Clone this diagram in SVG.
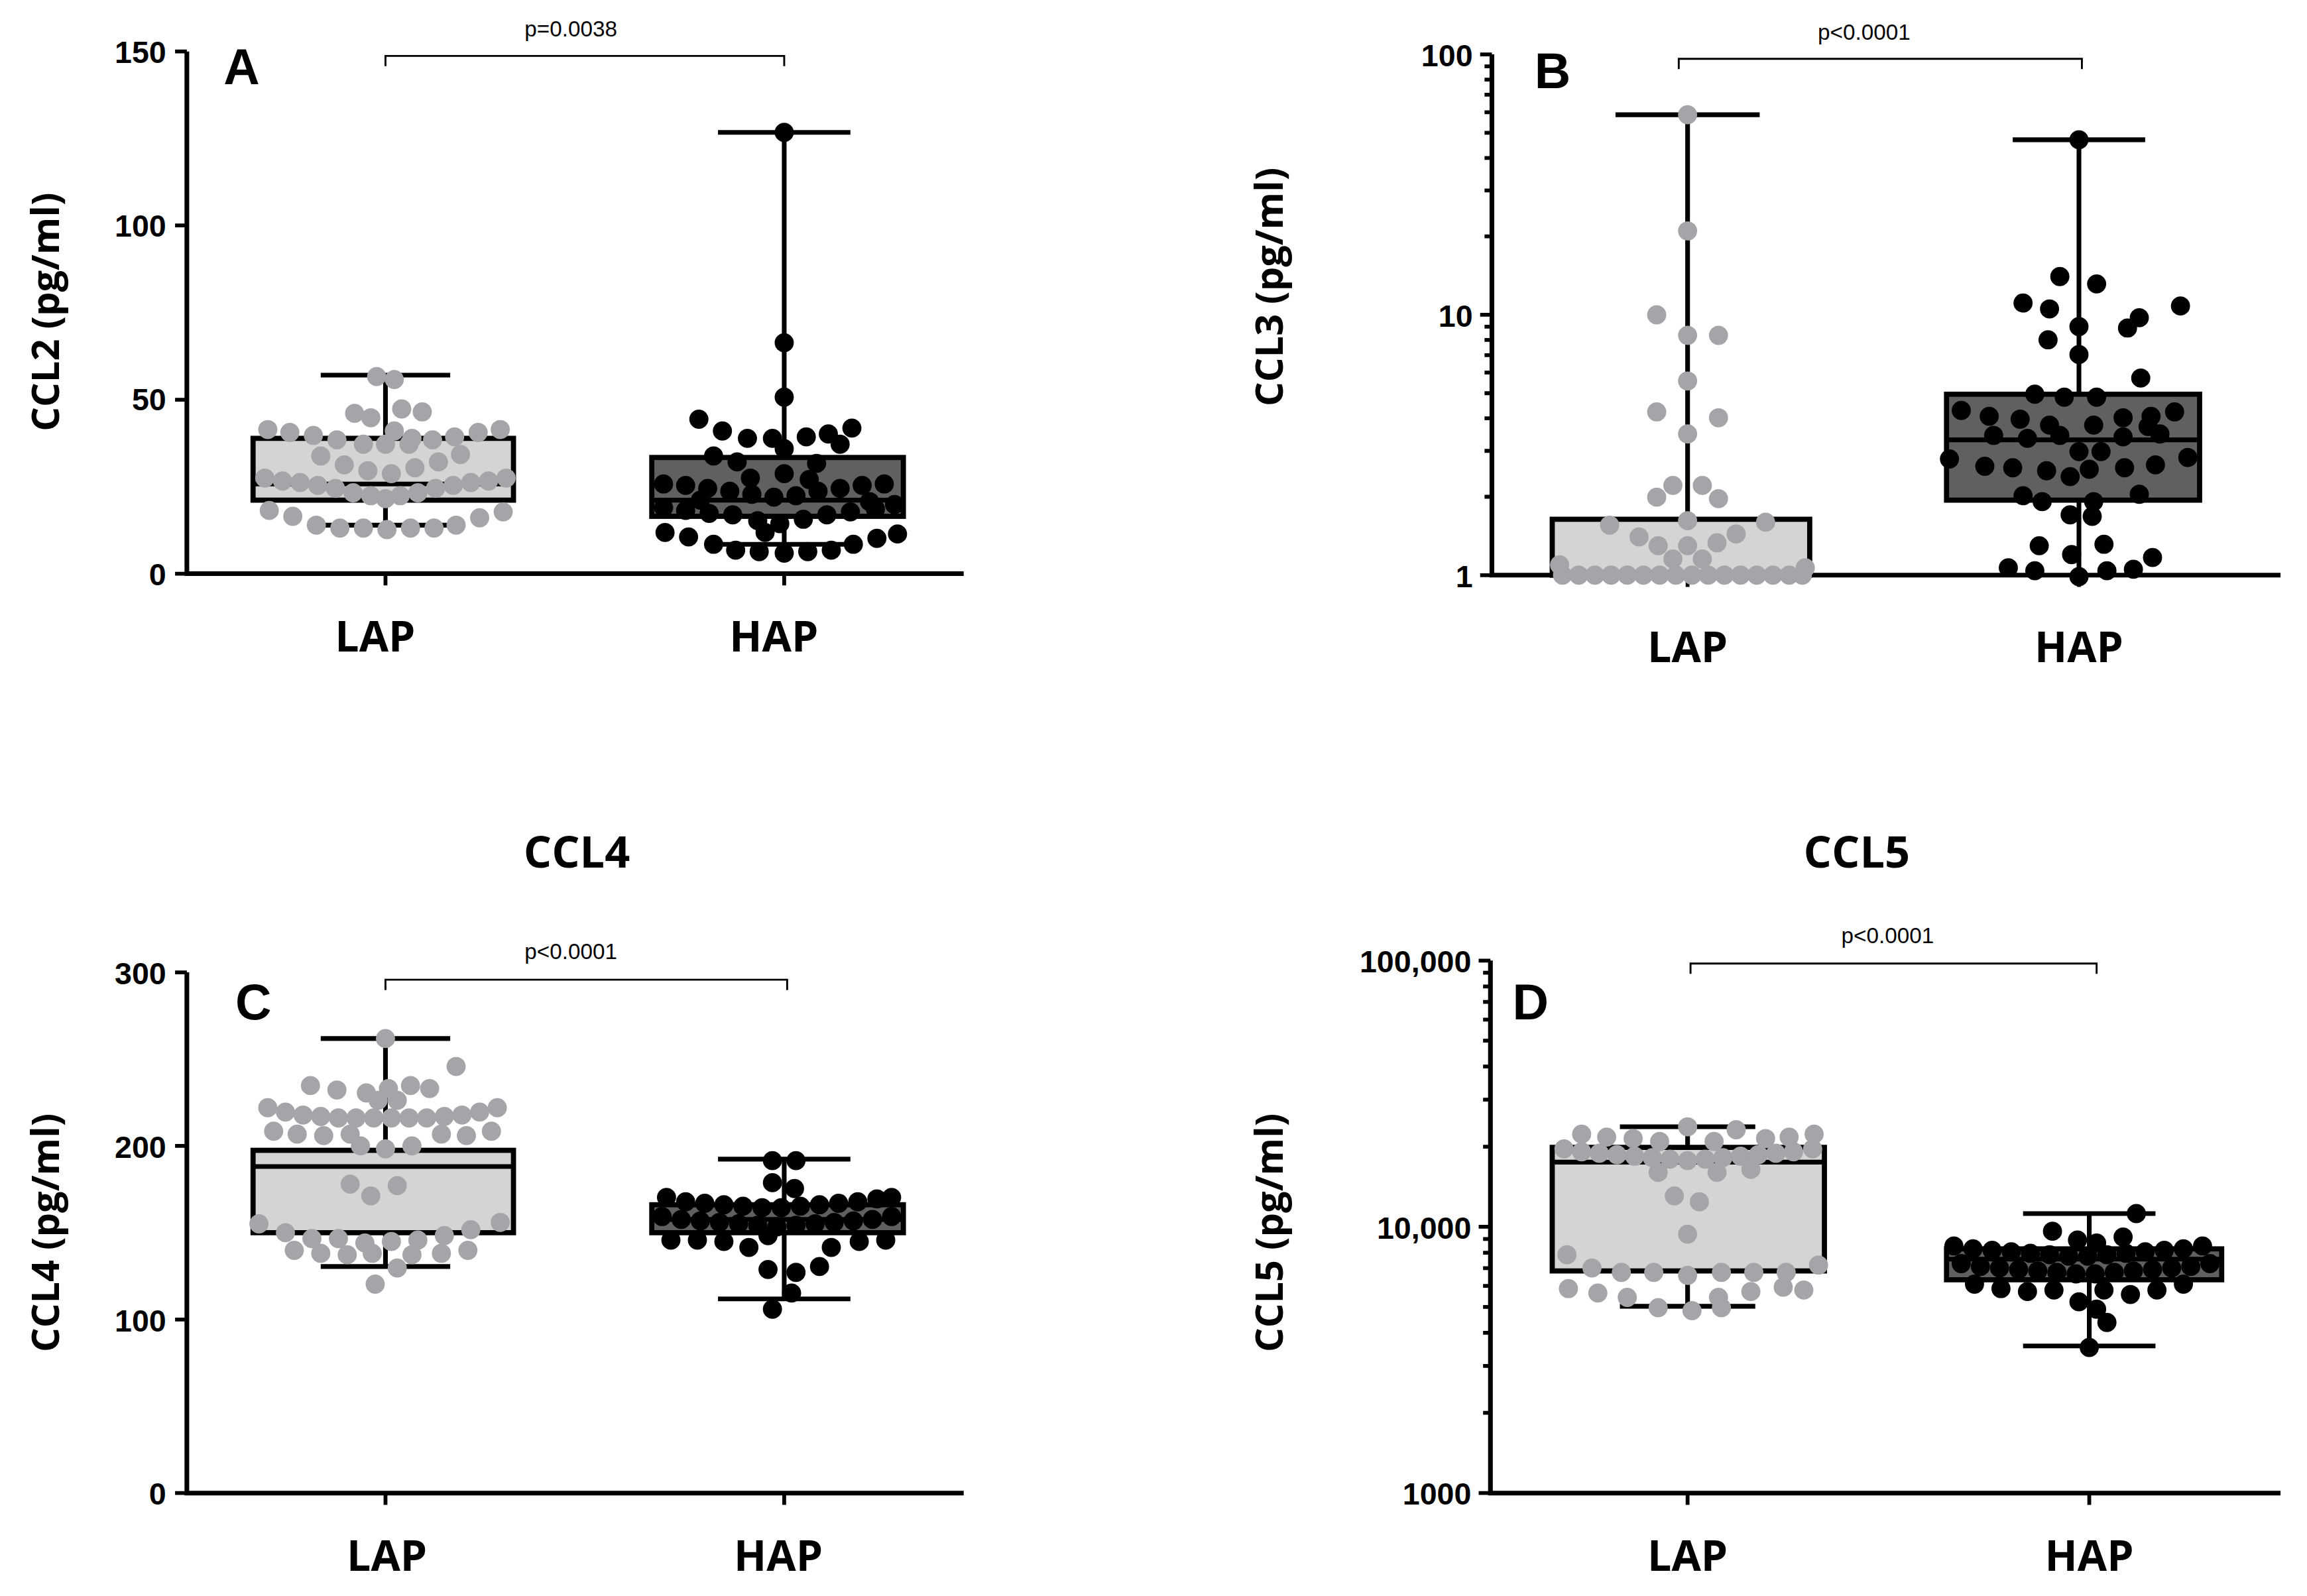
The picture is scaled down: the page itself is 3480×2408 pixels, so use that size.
<svg xmlns="http://www.w3.org/2000/svg" width="3480" height="2408" viewBox="0 0 3480 2408">
<style>
.ax{stroke:#000;stroke-width:3.2;fill:none}
.tk{stroke:#000;stroke-width:2.6}
.br{stroke:#000;stroke-width:1.3;fill:none}
.wh{stroke:#000;stroke-width:3.2}
.bl{fill:#d4d4d4;stroke:#000;stroke-width:3.5}
.bh{fill:#606060;stroke:#000;stroke-width:3.5}
.num{font-family:"Liberation Sans",Arial,sans-serif;font-weight:bold;font-size:21px;text-anchor:end}
.cat{font-family:"Open Sans","Liberation Sans",sans-serif;font-weight:bold;font-size:29px;text-anchor:middle}
.ttl{font-family:"Open Sans","Liberation Sans",sans-serif;font-weight:bold;font-size:26px;text-anchor:middle}
.pan{font-family:"Liberation Sans",Arial,sans-serif;font-weight:bold;font-size:34px}
.pv{font-family:"Liberation Sans",Arial,sans-serif;font-size:15px;text-anchor:middle}
.g circle{fill:#a5a5a9}
.k circle{fill:#000}
</style>
<rect width="3480" height="2408" fill="#fff"/>
<g transform="scale(2.2194)">
<!-- Panel A -->
<g id="panelA">
<path class="ax" d="M127,35 V390 H655"/>
<path class="tk" d="M119,35H127M119,153.3H127M119,271.7H127M119,390H127M262,390V398M533,390V398"/>
<text class="num" x="113" y="43">150</text><text class="num" x="113" y="161">100</text><text class="num" x="113" y="279">50</text><text class="num" x="113" y="398">0</text>
<text class="cat" x="255" y="443">LAP</text><text class="cat" x="526" y="443">HAP</text>
<text class="ttl" transform="translate(40,212) rotate(-90)">CCL2 (pg/ml)</text>
<text class="pan" x="152" y="57">A</text>
<path class="br" d="M262,45V38H533V45"/><text class="pv" x="388" y="25">p=0.0038</text>
<path class="wh" d="M262,255V357M218,255H306M218,357H306M533,90V370M488,90H578M488,370H578"/>
<rect class="bl" x="172" y="298" width="177" height="42"/><path class="wh" d="M172,329H349"/>
<rect class="bh" x="443" y="311" width="171" height="40"/><path class="wh" d="M443,340H614"/>
<g class="g">
<circle cx="256" cy="256" r="6.5"/><circle cx="268" cy="258" r="6.5"/><circle cx="241" cy="281" r="6.5"/><circle cx="252" cy="284" r="6.5"/><circle cx="273" cy="278" r="6.5"/><circle cx="287" cy="280" r="6.5"/><circle cx="268" cy="293" r="6.5"/><circle cx="280" cy="298" r="6.5"/>
<circle cx="182" cy="292" r="6.5"/><circle cx="197" cy="294" r="6.5"/><circle cx="213" cy="296" r="6.5"/><circle cx="229" cy="299" r="6.5"/><circle cx="247" cy="302" r="6.5"/><circle cx="262" cy="302" r="6.5"/><circle cx="278" cy="302" r="6.5"/><circle cx="294" cy="299" r="6.5"/><circle cx="309" cy="297" r="6.5"/><circle cx="325" cy="294" r="6.5"/><circle cx="340" cy="292" r="6.5"/>
<circle cx="218" cy="310" r="6.5"/><circle cx="234" cy="316" r="6.5"/><circle cx="250" cy="320" r="6.5"/><circle cx="266" cy="322" r="6.5"/><circle cx="282" cy="318" r="6.5"/><circle cx="298" cy="314" r="6.5"/><circle cx="313" cy="309" r="6.5"/>
<circle cx="180" cy="325" r="6.5"/><circle cx="192" cy="327" r="6.5"/><circle cx="204" cy="328" r="6.5"/><circle cx="216" cy="330" r="6.5"/><circle cx="228" cy="332" r="6.5"/><circle cx="240" cy="335" r="6.5"/><circle cx="252" cy="337" r="6.5"/><circle cx="262" cy="339" r="6.5"/><circle cx="272" cy="337" r="6.5"/><circle cx="284" cy="335" r="6.5"/><circle cx="296" cy="332" r="6.5"/><circle cx="308" cy="330" r="6.5"/><circle cx="320" cy="328" r="6.5"/><circle cx="332" cy="327" r="6.5"/><circle cx="344" cy="325" r="6.5"/>
<circle cx="183" cy="347" r="6.5"/><circle cx="199" cy="351" r="6.5"/><circle cx="215" cy="357" r="6.5"/><circle cx="231" cy="359" r="6.5"/><circle cx="247" cy="359" r="6.5"/><circle cx="263" cy="360" r="6.5"/><circle cx="279" cy="359" r="6.5"/><circle cx="295" cy="359" r="6.5"/><circle cx="310" cy="357" r="6.5"/><circle cx="326" cy="352" r="6.5"/><circle cx="342" cy="348" r="6.5"/>
</g>
<g class="k">
<circle cx="533" cy="90" r="6.5"/><circle cx="533" cy="233" r="6.5"/><circle cx="533" cy="270" r="6.5"/>
<circle cx="475" cy="285" r="6.5"/><circle cx="491" cy="293" r="6.5"/><circle cx="508" cy="298" r="6.5"/><circle cx="525" cy="298" r="6.5"/><circle cx="533" cy="305" r="6.5"/><circle cx="548" cy="297" r="6.5"/><circle cx="563" cy="295" r="6.5"/><circle cx="579" cy="291" r="6.5"/><circle cx="571" cy="302" r="6.5"/><circle cx="485" cy="310" r="6.5"/><circle cx="501" cy="314" r="6.5"/><circle cx="555" cy="315" r="6.5"/>
<circle cx="510" cy="325" r="6.5"/><circle cx="533" cy="322" r="6.5"/><circle cx="550" cy="326" r="6.5"/>
<circle cx="451" cy="329" r="6.5"/><circle cx="466" cy="330" r="6.5"/><circle cx="481" cy="332" r="6.5"/><circle cx="496" cy="334" r="6.5"/><circle cx="511" cy="336" r="6.5"/><circle cx="526" cy="338" r="6.5"/><circle cx="541" cy="337" r="6.5"/><circle cx="556" cy="334" r="6.5"/><circle cx="571" cy="332" r="6.5"/><circle cx="586" cy="330" r="6.5"/><circle cx="601" cy="329" r="6.5"/><circle cx="476" cy="340" r="6.5"/><circle cx="591" cy="341" r="6.5"/>
<circle cx="451" cy="345" r="6.5"/><circle cx="466" cy="347" r="6.5"/><circle cx="482" cy="349" r="6.5"/><circle cx="498" cy="350" r="6.5"/><circle cx="515" cy="354" r="6.5"/><circle cx="530" cy="356" r="6.5"/><circle cx="546" cy="353" r="6.5"/><circle cx="562" cy="350" r="6.5"/><circle cx="578" cy="348" r="6.5"/><circle cx="595" cy="346" r="6.5"/><circle cx="608" cy="343" r="6.5"/><circle cx="520" cy="362" r="6.5"/>
<circle cx="452" cy="362" r="6.5"/><circle cx="468" cy="365" r="6.5"/><circle cx="485" cy="370" r="6.5"/><circle cx="500" cy="374" r="6.5"/><circle cx="516" cy="375" r="6.5"/><circle cx="533" cy="376" r="6.5"/><circle cx="549" cy="375" r="6.5"/><circle cx="565" cy="374" r="6.5"/><circle cx="580" cy="370" r="6.5"/><circle cx="596" cy="366" r="6.5"/><circle cx="610" cy="363" r="6.5"/>
</g>
</g>
<!-- Panel B -->
<g id="panelB">
<path class="ax" d="M1014,37 V391 H1550"/>
<path class="tk" d="M1006,37H1014M1006,214H1014M1006,391H1014M1147,391V399M1413,391V399"/>
<path class="tk" d="M1009,337.7H1014M1009,306.5H1014M1009,284.4H1014M1009,267.3H1014M1009,253.3H1014M1009,241.4H1014M1009,231.1H1014M1009,222.1H1014M1009,160.7H1014M1009,129.5H1014M1009,107.4H1014M1009,90.3H1014M1009,76.3H1014M1009,64.4H1014M1009,54.1H1014M1009,45.1H1014"/>
<text class="num" x="1001" y="45">100</text><text class="num" x="1001" y="222">10</text><text class="num" x="1001" y="399">1</text>
<text class="cat" x="1147" y="450">LAP</text><text class="cat" x="1413" y="450">HAP</text>
<text class="ttl" transform="translate(872,195) rotate(-90)">CCL3 (pg/ml)</text>
<text class="pan" x="1043" y="60">B</text>
<path class="br" d="M1141,47V40H1415V47"/><text class="pv" x="1267" y="27">p&lt;0.0001</text>
<path class="wh" d="M1147,78V391M1098,78H1196M1413,95V391M1368,95H1458"/>
<rect class="bl" x="1055" y="353" width="175" height="38"/>
<rect class="bh" x="1323" y="268" width="172" height="72"/><path class="wh" d="M1323,299H1495"/>
<g class="g">
<circle cx="1147" cy="78" r="6.5"/><circle cx="1147" cy="157" r="6.5"/><circle cx="1126" cy="214" r="6.5"/><circle cx="1147" cy="228" r="6.5"/><circle cx="1168" cy="228" r="6.5"/><circle cx="1147" cy="259" r="6.5"/><circle cx="1126" cy="280" r="6.5"/><circle cx="1168" cy="284" r="6.5"/><circle cx="1147" cy="295" r="6.5"/>
<circle cx="1137" cy="330" r="6.5"/><circle cx="1157" cy="330" r="6.5"/><circle cx="1126" cy="338" r="6.5"/><circle cx="1168" cy="339" r="6.5"/><circle cx="1147" cy="354" r="6.5"/>
<circle cx="1094" cy="357" r="6.5"/><circle cx="1200" cy="355" r="6.5"/><circle cx="1114" cy="365" r="6.5"/><circle cx="1180" cy="363" r="6.5"/><circle cx="1127" cy="371" r="6.5"/><circle cx="1147" cy="371" r="6.5"/><circle cx="1167" cy="369" r="6.5"/><circle cx="1137" cy="380" r="6.5"/><circle cx="1157" cy="380" r="6.5"/><circle cx="1060" cy="384" r="6.5"/><circle cx="1227" cy="386" r="6.5"/>
<circle cx="1062" cy="391" r="6.5"/><circle cx="1073" cy="391" r="6.5"/><circle cx="1084" cy="391" r="6.5"/><circle cx="1095" cy="391" r="6.5"/><circle cx="1106" cy="391" r="6.5"/><circle cx="1117" cy="391" r="6.5"/><circle cx="1128" cy="391" r="6.5"/><circle cx="1139" cy="391" r="6.5"/><circle cx="1150" cy="391" r="6.5"/><circle cx="1161" cy="391" r="6.5"/><circle cx="1172" cy="391" r="6.5"/><circle cx="1183" cy="391" r="6.5"/><circle cx="1194" cy="391" r="6.5"/><circle cx="1205" cy="391" r="6.5"/><circle cx="1216" cy="391" r="6.5"/><circle cx="1225" cy="391" r="6.5"/>
</g>
<g class="k">
<circle cx="1413" cy="95" r="6.5"/><circle cx="1400" cy="188" r="6.5"/><circle cx="1425" cy="193" r="6.5"/><circle cx="1375" cy="206" r="6.5"/><circle cx="1393" cy="210" r="6.5"/><circle cx="1482" cy="208" r="6.5"/><circle cx="1454" cy="216" r="6.5"/><circle cx="1413" cy="222" r="6.5"/><circle cx="1446" cy="223" r="6.5"/><circle cx="1392" cy="231" r="6.5"/><circle cx="1413" cy="241" r="6.5"/><circle cx="1455" cy="257" r="6.5"/>
<circle cx="1383" cy="268" r="6.5"/><circle cx="1403" cy="270" r="6.5"/><circle cx="1425" cy="270" r="6.5"/>
<circle cx="1333" cy="279" r="6.5"/><circle cx="1352" cy="283" r="6.5"/><circle cx="1373" cy="285" r="6.5"/><circle cx="1443" cy="284" r="6.5"/><circle cx="1462" cy="283" r="6.5"/><circle cx="1478" cy="280" r="6.5"/>
<circle cx="1393" cy="289" r="6.5"/><circle cx="1423" cy="289" r="6.5"/><circle cx="1460" cy="290" r="6.5"/>
<circle cx="1355" cy="296" r="6.5"/><circle cx="1378" cy="298" r="6.5"/><circle cx="1400" cy="296" r="6.5"/><circle cx="1443" cy="297" r="6.5"/><circle cx="1468" cy="295" r="6.5"/>
<circle cx="1413" cy="307" r="6.5"/><circle cx="1428" cy="307" r="6.5"/><circle cx="1325" cy="312" r="6.5"/><circle cx="1487" cy="311" r="6.5"/>
<circle cx="1349" cy="317" r="6.5"/><circle cx="1368" cy="318" r="6.5"/><circle cx="1391" cy="320" r="6.5"/><circle cx="1420" cy="319" r="6.5"/><circle cx="1444" cy="318" r="6.5"/><circle cx="1465" cy="316" r="6.5"/><circle cx="1407" cy="324" r="6.5"/>
<circle cx="1375" cy="337" r="6.5"/><circle cx="1454" cy="336" r="6.5"/><circle cx="1388" cy="341" r="6.5"/><circle cx="1423" cy="341" r="6.5"/><circle cx="1407" cy="350" r="6.5"/><circle cx="1422" cy="351" r="6.5"/>
<circle cx="1386" cy="371" r="6.5"/><circle cx="1430" cy="370" r="6.5"/><circle cx="1408" cy="377" r="6.5"/><circle cx="1463" cy="379" r="6.5"/>
<circle cx="1365" cy="386" r="6.5"/><circle cx="1383" cy="388" r="6.5"/><circle cx="1432" cy="388" r="6.5"/><circle cx="1450" cy="387" r="6.5"/><circle cx="1413" cy="392" r="6.5"/>
</g>
</g>
<!-- Panel C -->
<g id="panelC">
<text class="ttl" x="392" y="590" style="font-size:30px">CCL4</text>
<path class="ax" d="M127,661 V1015 H655"/>
<path class="tk" d="M119,661H127M119,779H127M119,897H127M119,1015H127M262,1015V1023M533,1015V1023"/>
<text class="num" x="113" y="669">300</text><text class="num" x="113" y="787">200</text><text class="num" x="113" y="905">100</text><text class="num" x="113" y="1023">0</text>
<text class="cat" x="263" y="1068">LAP</text><text class="cat" x="529" y="1068">HAP</text>
<text class="ttl" transform="translate(40,838) rotate(-90)">CCL4 (pg/ml)</text>
<text class="pan" x="160" y="693">C</text>
<path class="br" d="M262,673V666H535V673"/><text class="pv" x="388" y="652">p&lt;0.0001</text>
<path class="wh" d="M262,706V861M218,706H306M218,861H306M533,788V883M488,788H578M488,883H578"/>
<rect class="bl" x="172" y="782" width="177" height="56"/><path class="wh" d="M172,793H349"/>
<rect class="bh" x="443" y="819" width="171" height="19"/><path class="wh" d="M443,829H614"/>
<g class="g">
<circle cx="262" cy="706" r="6.5"/><circle cx="310" cy="725" r="6.5"/><circle cx="211" cy="738" r="6.5"/><circle cx="229" cy="741" r="6.5"/><circle cx="249" cy="743" r="6.5"/><circle cx="264" cy="740" r="6.5"/><circle cx="279" cy="738" r="6.5"/><circle cx="292" cy="740" r="6.5"/><circle cx="257" cy="748" r="6.5"/><circle cx="270" cy="748" r="6.5"/>
<circle cx="182" cy="753" r="6.5"/><circle cx="194" cy="756" r="6.5"/><circle cx="206" cy="758" r="6.5"/><circle cx="218" cy="759" r="6.5"/><circle cx="230" cy="760" r="6.5"/><circle cx="242" cy="760" r="6.5"/><circle cx="254" cy="760" r="6.5"/><circle cx="266" cy="760" r="6.5"/><circle cx="278" cy="760" r="6.5"/><circle cx="290" cy="760" r="6.5"/><circle cx="302" cy="759" r="6.5"/><circle cx="314" cy="758" r="6.5"/><circle cx="326" cy="756" r="6.5"/><circle cx="338" cy="753" r="6.5"/>
<circle cx="186" cy="769" r="6.5"/><circle cx="202" cy="771" r="6.5"/><circle cx="220" cy="772" r="6.5"/><circle cx="238" cy="771" r="6.5"/><circle cx="300" cy="771" r="6.5"/><circle cx="317" cy="772" r="6.5"/><circle cx="334" cy="769" r="6.5"/>
<circle cx="245" cy="779" r="6.5"/><circle cx="262" cy="781" r="6.5"/><circle cx="280" cy="779" r="6.5"/>
<circle cx="238" cy="805" r="6.5"/><circle cx="252" cy="813" r="6.5"/><circle cx="270" cy="806" r="6.5"/>
<circle cx="176" cy="832" r="6.5"/><circle cx="194" cy="838" r="6.5"/><circle cx="212" cy="842" r="6.5"/><circle cx="230" cy="842" r="6.5"/><circle cx="248" cy="845" r="6.5"/><circle cx="266" cy="844" r="6.5"/><circle cx="284" cy="843" r="6.5"/><circle cx="302" cy="840" r="6.5"/><circle cx="320" cy="836" r="6.5"/><circle cx="340" cy="831" r="6.5"/>
<circle cx="200" cy="850" r="6.5"/><circle cx="218" cy="852" r="6.5"/><circle cx="236" cy="853" r="6.5"/><circle cx="280" cy="853" r="6.5"/><circle cx="300" cy="852" r="6.5"/><circle cx="318" cy="850" r="6.5"/><circle cx="253" cy="852" r="6.5"/><circle cx="270" cy="862" r="6.5"/><circle cx="255" cy="873" r="6.5"/>
</g>
<g class="k">
<circle cx="525" cy="789" r="6.5"/><circle cx="541" cy="789" r="6.5"/><circle cx="525" cy="804" r="6.5"/><circle cx="540" cy="808" r="6.5"/>
<circle cx="453" cy="814" r="6.5"/><circle cx="466" cy="817" r="6.5"/><circle cx="479" cy="818" r="6.5"/><circle cx="492" cy="819" r="6.5"/><circle cx="505" cy="820" r="6.5"/><circle cx="518" cy="821" r="6.5"/><circle cx="531" cy="821" r="6.5"/><circle cx="544" cy="820" r="6.5"/><circle cx="557" cy="819" r="6.5"/><circle cx="570" cy="818" r="6.5"/><circle cx="583" cy="817" r="6.5"/><circle cx="596" cy="815" r="6.5"/><circle cx="606" cy="814" r="6.5"/>
<circle cx="450" cy="827" r="6.5"/><circle cx="463" cy="829" r="6.5"/><circle cx="476" cy="830" r="6.5"/><circle cx="489" cy="831" r="6.5"/><circle cx="502" cy="832" r="6.5"/><circle cx="515" cy="833" r="6.5"/><circle cx="528" cy="834" r="6.5"/><circle cx="541" cy="833" r="6.5"/><circle cx="554" cy="832" r="6.5"/><circle cx="567" cy="831" r="6.5"/><circle cx="580" cy="830" r="6.5"/><circle cx="593" cy="829" r="6.5"/><circle cx="606" cy="827" r="6.5"/>
<circle cx="456" cy="843" r="6.5"/><circle cx="474" cy="843" r="6.5"/><circle cx="492" cy="844" r="6.5"/><circle cx="522" cy="840" r="6.5"/><circle cx="509" cy="848" r="6.5"/><circle cx="565" cy="848" r="6.5"/><circle cx="584" cy="844" r="6.5"/><circle cx="602" cy="843" r="6.5"/>
<circle cx="522" cy="863" r="6.5"/><circle cx="541" cy="865" r="6.5"/><circle cx="557" cy="861" r="6.5"/><circle cx="538" cy="879" r="6.5"/><circle cx="525" cy="890" r="6.5"/>
</g>
</g>
<!-- Panel D -->
<g id="panelD">
<text class="ttl" x="1262" y="590" style="font-size:30px">CCL5</text>
<path class="ax" d="M1013,653 V1015 H1550"/>
<path class="tk" d="M1005,653H1013M1005,834H1013M1005,1015H1013M1147,1015V1023M1420,1015V1023"/>
<path class="tk" d="M1008,960.5H1013M1008,928.6H1013M1008,906H1013M1008,888.5H1013M1008,874.2H1013M1008,862.1H1013M1008,851.6H1013M1008,842.3H1013M1008,779.5H1013M1008,747.6H1013M1008,725H1013M1008,707.5H1013M1008,693.2H1013M1008,681.1H1013M1008,670.6H1013M1008,661.3H1013"/>
<text class="num" x="1000" y="661">100,000</text><text class="num" x="1000" y="842">10,000</text><text class="num" x="1000" y="1023">1000</text>
<text class="cat" x="1147" y="1068">LAP</text><text class="cat" x="1420" y="1068">HAP</text>
<text class="ttl" transform="translate(872,838) rotate(-90)">CCL5 (pg/ml)</text>
<text class="pan" x="1028" y="693">D</text>
<path class="br" d="M1149,662V655H1425V662"/><text class="pv" x="1283" y="641">p&lt;0.0001</text>
<path class="wh" d="M1147,766V888M1101,766H1193M1101,888H1193M1420,825V915M1375,825H1465M1375,915H1465"/>
<rect class="bl" x="1055" y="780" width="185" height="84"/><path class="wh" d="M1055,790H1240"/>
<rect class="bh" x="1323" y="849" width="187" height="21"/><path class="wh" d="M1323,856H1510"/>
<g class="g">
<circle cx="1147" cy="766" r="6.5"/><circle cx="1180" cy="768" r="6.5"/><circle cx="1075" cy="771" r="6.5"/><circle cx="1092" cy="773" r="6.5"/><circle cx="1110" cy="774" r="6.5"/><circle cx="1128" cy="776" r="6.5"/><circle cx="1165" cy="776" r="6.5"/><circle cx="1200" cy="774" r="6.5"/><circle cx="1216" cy="773" r="6.5"/><circle cx="1233" cy="771" r="6.5"/>
<circle cx="1063" cy="781" r="6.5"/><circle cx="1075" cy="783" r="6.5"/><circle cx="1087" cy="784" r="6.5"/><circle cx="1099" cy="785" r="6.5"/><circle cx="1111" cy="786" r="6.5"/><circle cx="1123" cy="787" r="6.5"/><circle cx="1135" cy="788" r="6.5"/><circle cx="1147" cy="789" r="6.5"/><circle cx="1159" cy="788" r="6.5"/><circle cx="1171" cy="787" r="6.5"/><circle cx="1183" cy="786" r="6.5"/><circle cx="1195" cy="785" r="6.5"/><circle cx="1207" cy="784" r="6.5"/><circle cx="1219" cy="783" r="6.5"/><circle cx="1232" cy="781" r="6.5"/>
<circle cx="1127" cy="797" r="6.5"/><circle cx="1167" cy="797" r="6.5"/><circle cx="1190" cy="795" r="6.5"/>
<circle cx="1138" cy="813" r="6.5"/><circle cx="1155" cy="817" r="6.5"/><circle cx="1147" cy="839" r="6.5"/>
<circle cx="1065" cy="853" r="6.5"/><circle cx="1082" cy="862" r="6.5"/><circle cx="1102" cy="865" r="6.5"/><circle cx="1124" cy="865" r="6.5"/><circle cx="1147" cy="867" r="6.5"/><circle cx="1170" cy="865" r="6.5"/><circle cx="1192" cy="865" r="6.5"/><circle cx="1214" cy="865" r="6.5"/><circle cx="1236" cy="860" r="6.5"/>
<circle cx="1066" cy="876" r="6.5"/><circle cx="1086" cy="879" r="6.5"/><circle cx="1106" cy="882" r="6.5"/><circle cx="1168" cy="882" r="6.5"/><circle cx="1190" cy="878" r="6.5"/><circle cx="1212" cy="875" r="6.5"/><circle cx="1226" cy="877" r="6.5"/>
<circle cx="1127" cy="889" r="6.5"/><circle cx="1150" cy="891" r="6.5"/><circle cx="1170" cy="889" r="6.5"/>
</g>
<g class="k">
<circle cx="1452" cy="825" r="6.5"/><circle cx="1395" cy="837" r="6.5"/><circle cx="1412" cy="843" r="6.5"/><circle cx="1425" cy="845" r="6.5"/><circle cx="1443" cy="841" r="6.5"/>
<circle cx="1328" cy="847" r="6.5"/><circle cx="1341" cy="849" r="6.5"/><circle cx="1354" cy="850" r="6.5"/><circle cx="1367" cy="851" r="6.5"/><circle cx="1380" cy="852" r="6.5"/><circle cx="1393" cy="853" r="6.5"/><circle cx="1406" cy="854" r="6.5"/><circle cx="1419" cy="854" r="6.5"/><circle cx="1432" cy="853" r="6.5"/><circle cx="1445" cy="852" r="6.5"/><circle cx="1458" cy="851" r="6.5"/><circle cx="1471" cy="850" r="6.5"/><circle cx="1484" cy="849" r="6.5"/><circle cx="1497" cy="847" r="6.5"/>
<circle cx="1333" cy="859" r="6.5"/><circle cx="1346" cy="861" r="6.5"/><circle cx="1359" cy="862" r="6.5"/><circle cx="1372" cy="863" r="6.5"/><circle cx="1385" cy="864" r="6.5"/><circle cx="1398" cy="865" r="6.5"/><circle cx="1411" cy="866" r="6.5"/><circle cx="1424" cy="866" r="6.5"/><circle cx="1437" cy="865" r="6.5"/><circle cx="1450" cy="864" r="6.5"/><circle cx="1463" cy="863" r="6.5"/><circle cx="1476" cy="862" r="6.5"/><circle cx="1489" cy="861" r="6.5"/><circle cx="1502" cy="859" r="6.5"/>
<circle cx="1342" cy="873" r="6.5"/><circle cx="1360" cy="876" r="6.5"/><circle cx="1378" cy="878" r="6.5"/><circle cx="1396" cy="877" r="6.5"/><circle cx="1430" cy="877" r="6.5"/><circle cx="1448" cy="880" r="6.5"/><circle cx="1466" cy="877" r="6.5"/><circle cx="1484" cy="873" r="6.5"/>
<circle cx="1413" cy="885" r="6.5"/><circle cx="1425" cy="890" r="6.5"/><circle cx="1432" cy="899" r="6.5"/><circle cx="1420" cy="916" r="6.5"/>
</g>
</g>
</g>
</svg>
